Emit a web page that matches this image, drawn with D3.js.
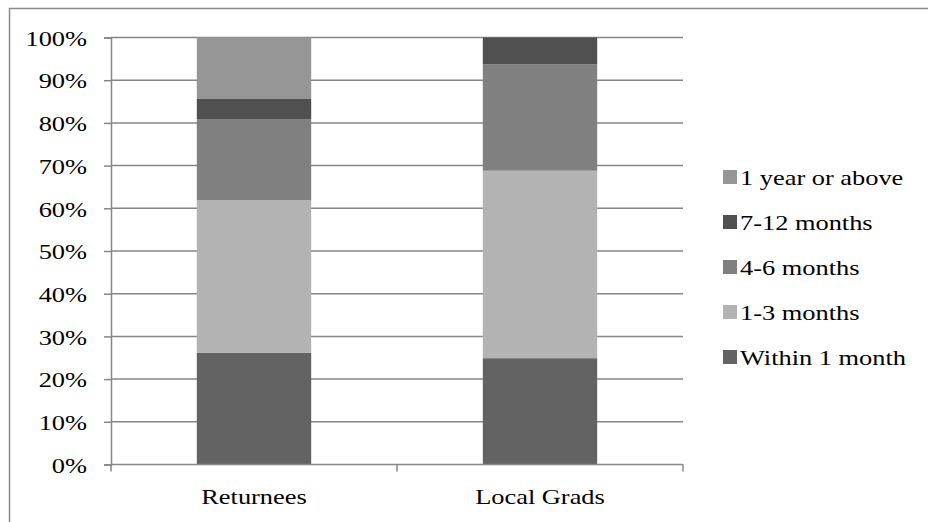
<!DOCTYPE html>
<html>
<head>
<meta charset="utf-8">
<script src="https://cdn.jsdelivr.net/npm/d3@7"></script>
<style>
  html, body { margin: 0; padding: 0; background: #fff; }
  svg { display: block; }
</style>
</head>
<body>
<svg id="chart" width="928" height="522"></svg>
<script>
// Categories on the x axis
const groups = ["Returnees", "Local Grads"];

// Series, listed bottom-to-top of each stack (percent of respondents)
const seriesNames = ["Within 1 month", "1-3 months", "4-6 months", "7-12 months", "1 year or above"];
const withinOneMonth = [26.2, 24.9];
const oneToThree     = [35.7, 43.9];
const fourToSix      = [19.0, 24.9];
const sevenToTwelve  = [4.7, 6.3];
const yearOrAbove    = [14.4, 0.0];

const seriesColors = ["#636363", "#b3b3b3", "#808080", "#505050", "#969696"];

// Legend order as shown (top to bottom)
const legendOrder = ["1 year or above", "7-12 months", "4-6 months", "1-3 months", "Within 1 month"];

const yTicks = [0, 10, 20, 30, 40, 50, 60, 70, 80, 90, 100];

const FONT = "'Liberation Serif', 'Times New Roman', Times, 'DejaVu Serif', serif";
const FONT_SIZE = 22;
const STRETCH = 1.2;   // horizontal widening of the label glyphs

// Build rows for the stack layout
const seriesValues = [withinOneMonth, oneToThree, fourToSix, sevenToTwelve, yearOrAbove];
const rows = groups.map((g, i) => {
  const r = { group: g };
  seriesNames.forEach((s, k) => { r[s] = seriesValues[k][i]; });
  return r;
});
const stacked = d3.stack().keys(seriesNames)(rows);
const color = d3.scaleOrdinal().domain(seriesNames).range(seriesColors);

const svg = d3.select("#chart");
const plot = { left: 111, right: 683, top: 37.5, bottom: 464.5 };

const x = d3.scaleBand().domain(groups)
  .range([plot.left, plot.right])
  .paddingInner(0.6).paddingOuter(0.3);
const y = d3.scaleLinear().domain([0, 100]).range([plot.bottom, plot.top]);

const gridColor = "#868686";

// Places a label with its glyphs widened horizontally around its anchor point
function label(sel, tx, ty, anchor) {
  return sel
    .attr("x", 0).attr("y", 0)
    .attr("transform", `translate(${tx},${ty}) scale(${STRETCH},1)`)
    .attr("text-anchor", anchor)
    .attr("fill", "#000")
    .style("font-family", FONT)
    .style("font-size", FONT_SIZE + "px");
}

// Outer chart frame (top and left edges)
svg.append("path")
  .attr("d", `M9.5,530 L9.5,8.5 L935,8.5`)
  .attr("fill", "none")
  .attr("stroke", "#8c8c8c")
  .attr("stroke-width", 1.5);

// Horizontal gridlines
svg.append("g").selectAll("line").data(yTicks.filter(t => t > 0)).join("line")
  .attr("x1", plot.left).attr("x2", plot.right)
  .attr("y1", d => y(d)).attr("y2", d => y(d))
  .attr("stroke", gridColor).attr("stroke-width", 1.5);

// Stacked bars
svg.append("g").selectAll("g").data(stacked).join("g")
  .attr("fill", d => color(d.key))
  .selectAll("rect").data(d => d).join("rect")
  .attr("x", d => x(d.data.group))
  .attr("width", x.bandwidth())
  .attr("y", d => y(d[1]))
  .attr("height", d => y(d[0]) - y(d[1]));

// Y axis
const yAxis = d3.axisLeft(y).tickValues(yTicks).tickFormat(d => d + "%").tickSize(7).tickPadding(17);
const gy = svg.append("g").attr("transform", `translate(${plot.left},0)`).call(yAxis)
  .attr("font-family", null).attr("font-size", null);
gy.select(".domain").attr("stroke", gridColor).attr("stroke-width", 1.5);
gy.selectAll(".tick line").attr("stroke", gridColor).attr("stroke-width", 1.5);
gy.selectAll(".tick text").call(label, -24, 0, "end").attr("dy", "0.35em");

// X axis with ticks at band boundaries
const gx = svg.append("g").attr("transform", `translate(0,${plot.bottom})`);
gx.append("line").attr("x1", plot.left).attr("x2", plot.right)
  .attr("stroke", gridColor).attr("stroke-width", 1.5);
const bounds = [plot.left, ...groups.slice(1).map(g => x(g) - x.step() * x.paddingInner() / 2), plot.right];
gx.selectAll("line.tk").data(bounds).join("line").attr("class", "tk")
  .attr("x1", d => d).attr("x2", d => d).attr("y1", 0).attr("y2", 7)
  .attr("stroke", gridColor).attr("stroke-width", 1.5);
gx.selectAll("text").data(groups).join("text")
  .each(function (d) {
    d3.select(this).call(label, x(d) + x.bandwidth() / 2, 39, "middle");
  })
  .text(d => d);

// Legend
const legend = svg.append("g").attr("transform", "translate(723,170)");
const li = legend.selectAll("g").data(legendOrder).join("g")
  .attr("transform", (d, i) => `translate(0,${i * 45})`);
li.append("rect").attr("width", 14).attr("height", 14).attr("fill", d => color(d));
li.append("text").call(label, 17, 7, "start").attr("dy", "0.35em").text(d => d);
</script>
</body>
</html>
